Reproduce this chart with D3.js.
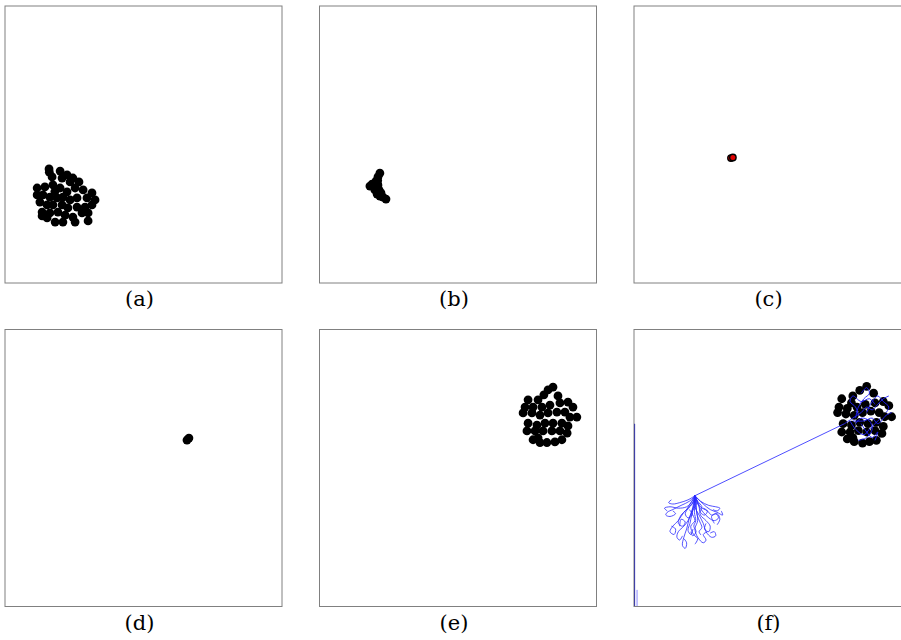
<!DOCTYPE html>
<html>
<head>
<meta charset="utf-8">
<script src="https://cdn.jsdelivr.net/npm/d3@7"></script>
<style>
  html, body { margin: 0; padding: 0; background: #fff; }
  svg { display: block; }
  .cap { font-family: "DejaVu Serif", "Liberation Serif", serif; font-size: 21px; font-weight: 300; }
</style>
</head>
<body>
<svg id="chart" width="901" height="640"></svg>
<script>
// ---------------- DATA (units: arena coordinates 0..100, y upward) ----------------
const captions = ["(a)", "(b)", "(c)", "(d)", "(e)", "(f)"];

const swarmA = [
  [15.9,41.2],[19.9,40.4],[22.4,39.0],[24.5,37.9],[26.7,36.5],[17.0,38.3],[20.6,37.9],[23.5,36.5],
  [11.6,34.3],[14.4,34.7],[17.3,35.4],[19.9,34.3],[22.4,32.9],[25.3,34.3],[28.2,33.6],[31.4,32.5],
  [32.5,30.0],[11.6,31.8],[13.7,31.8],[16.2,31.0],[18.8,30.7],[20.9,31.0],[23.5,30.0],[26.0,30.7],
  [29.6,30.7],[12.6,29.2],[15.2,28.2],[17.3,28.2],[20.6,28.2],[22.7,27.1],[26.0,27.4],[28.9,27.4],
  [31.4,28.2],[13.4,25.6],[16.2,25.3],[19.1,25.6],[21.7,24.5],[24.5,23.8],[27.8,25.3],[30.0,25.3],
  [15.2,23.5],[18.1,22.0],[20.9,22.0],[25.3,22.0],[30.0,22.4],[13.4,24.2],[16.0,40.0],[18.0,33.0]
];

const swarmB = [
  [21.8,39.7],[21.1,38.3],[20.4,36.8],[19.0,35.7],[18.2,35.0],[19.7,35.0],[21.1,35.4],[20.0,33.6],
  [21.5,33.6],[20.8,32.1],[21.8,31.4],[22.9,31.0],[24.0,30.3],[22.2,32.5],[20.8,34.3],[21.0,37.0]
];

const swarmC = [[35.0,45.1],[35.7,45.3]];

const swarmD = [[65.7,60.1],[66.4,60.8]];

const swarmE = [
  [84.3,79.2],[82.5,78.2],[86.1,76.0],[81.0,76.4],[75.3,74.6],[78.9,74.6],[74.2,72.0],[77.1,72.0],
  [80.3,72.0],[83.2,72.7],[86.8,73.5],[89.7,73.8],[91.5,72.0],[73.5,69.9],[76.7,69.9],[79.6,69.1],
  [82.5,69.9],[85.7,70.2],[88.6,70.2],[90.4,68.4],[92.9,68.4],[75.3,66.2],[78.5,65.5],[81.4,66.2],
  [84.3,66.2],[87.5,66.2],[89.7,65.2],[74.9,63.4],[77.8,63.4],[80.7,63.4],[83.9,63.4],[86.8,63.4],
  [89.4,62.6],[77.1,60.2],[79.6,59.2],[82.1,59.2],[85.0,59.4],[87.5,60.2],[78.9,60.9]
];

const swarmF = [
  [84.0,79.5],[81.5,78.0],[86.5,77.0],[79.0,76.0],[75.0,75.0],[78.5,73.5],[74.0,72.0],[77.0,71.5],
  [80.5,72.0],[83.5,73.0],[87.0,73.5],[90.0,74.0],[92.0,72.5],[73.5,70.0],[76.5,69.5],[79.5,69.0],
  [82.5,70.0],[85.5,70.5],[88.5,70.0],[90.5,68.5],[93.0,68.5],[75.5,66.0],[78.5,65.5],[81.5,66.5],
  [84.5,66.0],[87.5,66.5],[90.0,65.0],[75.0,63.0],[78.0,63.0],[81.0,63.5],[84.0,63.0],[87.0,63.5],
  [89.5,62.5],[77.0,60.5],[79.5,59.5],[82.5,59.0],[85.0,59.5],[87.5,60.0],[79.0,61.0]
];

// trajectories drawn in panel (f)
const exploreTracks = [
  [[22,40],[20,38],[17,36.5],[14,35],[12,34],[11.5,33],[13,32.5],[15,33.5],[14,34.5]],
  [[22,40],[21,37],[18,34],[16,31],[14,29],[13,27],[14.5,26],[15,28],[13.5,29]],
  [[22,40],[21.5,36],[20,32],[19,28],[18,25],[17.5,22],[18.5,21],[19,23],[18,24.5]],
  [[22,40],[22.5,35],[23,31],[22,28],[23,25],[25,23],[26,24],[25,26],[26.5,27]],
  [[22,40],[23,37],[25,34],[27,32],[29,31],[30.5,32],[29.5,33.5],[28,32.5],[29,30]],
  [[22,40],[24,38],[27,36.5],[29.5,36],[31,35.5],[30,34.5],[28.5,35]],
  [[22,40],[20.5,37.5],[19,35],[17,33],[16,30],[17.5,29],[18.5,30.5],[17,31.5],[16.5,29]],
  [[22,40],[22,36],[23.5,33],[25,30],[26,27],[28,25],[29.5,25.5],[29,27],[27.5,26.5]],
  [[22,40],[21,38],[19,36],[16,35.5],[13,36],[11,35.5],[12,34.5]],
  [[22,40],[22.5,37],[21,34],[22,31],[20.5,29],[21.5,26],[23,24.5],[22,22.5]],
  [[22,40],[23.5,36],[24,33],[26,31],[27.5,29],[27,27],[25.5,28],[26,30]],
  [[22,40],[21,35],[19.5,31],[18,29],[16,27],[15.5,25],[16.5,24],[17.5,25.5]],
  [[22,40],[24,36],[26.5,34.5],[28,33],[30,33.5],[31,31.5],[30,29.5]],
  [[22,40],[21.5,38],[20,36],[18.5,33.5],[19.5,32],[21,33],[20,35]],
  [[22,40],[23,38],[24.5,36],[24,34],[25.5,33],[26.5,34.5],[25,35.5]],
  [[22,40],[22,37],[21.8,34],[22.3,31],[21.6,29],[22.4,27],[21.2,25.5],[20.5,27]],
  [[22,40],[22.4,36.5],[22.8,33],[23.8,30.5],[24.5,28.5],[23.5,27],[24.2,25.8]],
  [[22,40],[21.6,36.5],[20.8,33],[20.2,30],[19.5,27.5],[20.5,26],[21.3,28]],
  [[22,40],[19.5,38.5],[16.5,37.5],[14,37],[12.5,37.5],[13.5,38.5]],
  [[22,40],[25,37],[27.5,35],[30,34],[32,33],[31.5,34.5]]
];
const transitTrack = [[22,40],[76,66]];
const clusterTracks = [
  [[76,66],[79,68],[82,70],[84,72],[86,71],[88,73],[90,75],[92,76]],
  [[78,67],[80,64],[83,62],[85,64],[87,66],[89,68]],
  [[80,68],[81,72],[83,75],[85,77],[84,79],[82,77]],
  [[79,67],[83,67],[86,68],[88,66],[91,69],[93,70]],
  [[81,69],[80,72],[78,74],[79,76],[82,74],[85,75],[87,73]],
  [[82,66],[84,63],[86,61],[88,63],[87,60]],
  [[84,70],[86,74],[88,76],[90,74],[92,72],[91,70]],
  [[80,66],[82,68],[85,67],[86,64],[84,61],[81,60]]
];
const wallTrack = [[0,0],[0,66]];
const wallTrack2 = [[1.1,0],[1.1,6]];

// ---------------- LAYOUT ----------------
const panelSize = 277;
const colX = [5, 319.5, 634];
const rowY = [6, 329.5];

const svg = d3.select("#chart");

const x = d3.scaleLinear().domain([0, 100]).range([0, panelSize]);
const y = d3.scaleLinear().domain([0, 100]).range([panelSize, 0]);
const line = d3.line().x(d => x(d[0])).y(d => y(d[1])).curve(d3.curveCatmullRom.alpha(0.5));
const straight = d3.line().x(d => x(d[0])).y(d => y(d[1]));

const panels = [
  { dots: swarmA, fill: "#000" },
  { dots: swarmB, fill: "#000" },
  { dots: swarmC, fill: "#e00000", stroke: "#000" },
  { dots: swarmD, fill: "#000" },
  { dots: swarmE, fill: "#000" },
  { dots: swarmF, fill: "#000", tracks: true }
];

panels.forEach((p, i) => {
  const col = i % 3, row = Math.floor(i / 3);
  const g = svg.append("g").attr("transform", `translate(${colX[col]},${rowY[row]})`);

  const clipId = "clip" + i;
  g.append("clipPath").attr("id", clipId)
    .append("rect").attr("width", panelSize).attr("height", panelSize);

  const inner = g.append("g").attr("clip-path", `url(#${clipId})`);

  inner.selectAll("circle").data(p.dots).join("circle")
    .attr("cx", d => x(d[0])).attr("cy", d => y(d[1]))
    .attr("r", p.stroke ? 3.2 : 4.4)
    .attr("fill", p.fill)
    .attr("stroke", p.stroke || "none")
    .attr("stroke-width", p.stroke ? 1.4 : 0);

  if (p.tracks) {
    const tg = inner.append("g").attr("fill", "none");
    tg.selectAll("path.explore").data(exploreTracks).join("path")
      .attr("class", "explore").attr("d", line)
      .attr("stroke", "#2a2aff").attr("stroke-width", 0.8);
    tg.append("path").attr("d", straight(transitTrack))
      .attr("stroke", "#3a3aff").attr("stroke-width", 0.9);
    tg.selectAll("path.cluster").data(clusterTracks).join("path")
      .attr("class", "cluster").attr("d", line)
      .attr("stroke", "#2020ff").attr("stroke-width", 0.9);
    tg.append("path").attr("d", straight(wallTrack))
      .attr("stroke", "#0000c8").attr("stroke-width", 2.2);
    tg.append("path").attr("d", straight(wallTrack2))
      .attr("stroke", "#6a6aff").attr("stroke-width", 0.8);
  }

  g.append("rect").attr("width", panelSize).attr("height", panelSize)
    .attr("fill", "none").attr("stroke", "#808080").attr("stroke-width", 1);

  g.append("text")
    .attr("class", "cap")
    .attr("x", panelSize / 2 - 4).attr("y", panelSize + 23)
    .attr("text-anchor", "middle")
    .attr("fill", "#000")
    .text(captions[i]);
});
</script>
</body>
</html>
